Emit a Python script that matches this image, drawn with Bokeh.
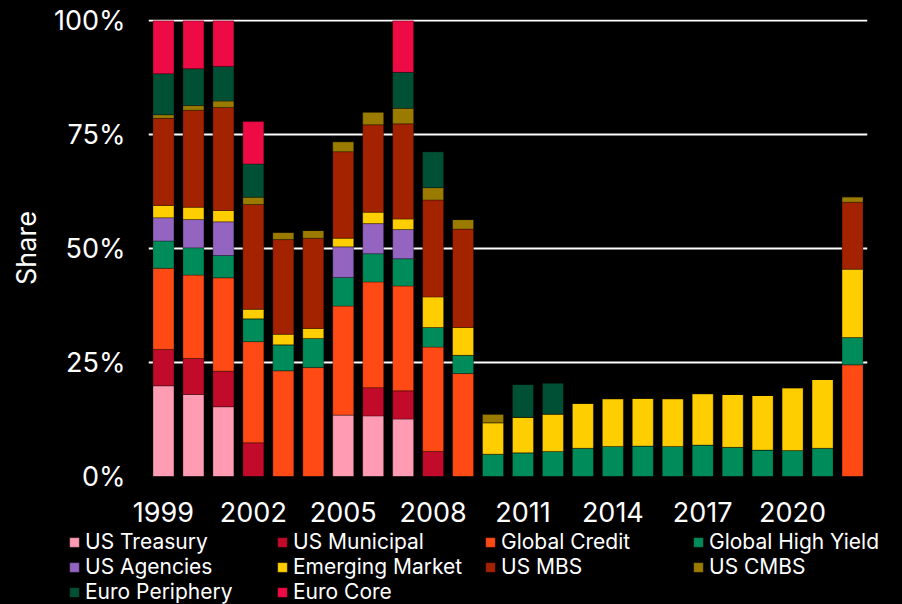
from bokeh.plotting import figure
from bokeh.models import Legend, LegendItem, FixedTicker, Range1d, ColumnDataSource, PrintfTickFormatter
from bokeh.embed import file_html
from bokeh.resources import INLINE

years = list(range(1999, 2023))
x_ticks = [1999, 2002, 2005, 2008, 2011, 2014, 2017, 2020]
y_ticks = [0, 25, 50, 75, 100]

series_names = ["US Treasury", "US Municipal", "Global Credit", "Global High Yield",
                "US Agencies", "Emerging Market", "US MBS", "US CMBS",
                "Euro Periphery", "Euro Core"]

us_treasury = [19.9, 18.0, 15.3, 0, 0, 0, 13.5, 13.3, 12.6, 0, 0, 0,
               0, 0, 0, 0, 0, 0, 0, 0, 0, 0, 0, 0]
us_municipal = [8.0, 7.9, 7.8, 7.4, 0, 0, 0, 6.2, 6.2, 5.5, 0, 0,
                0, 0, 0, 0, 0, 0, 0, 0, 0, 0, 0, 0]
global_credit = [17.8, 18.3, 20.5, 22.2, 23.2, 23.9, 23.9, 23.2, 23.0, 22.9, 22.6, 0,
                 0, 0, 0, 0, 0, 0, 0, 0, 0, 0, 0, 24.5]
global_high_yield = [6.0, 6.0, 4.9, 5.0, 5.7, 6.4, 6.3, 6.2, 6.0, 4.3, 4.0, 4.9,
                     5.2, 5.5, 6.2, 6.6, 6.7, 6.6, 6.9, 6.4, 5.8, 5.7, 6.2, 6.0]
us_agencies = [5.1, 6.2, 7.4, 0, 0, 0, 6.7, 6.6, 6.4, 0, 0, 0,
               0, 0, 0, 0, 0, 0, 0, 0, 0, 0, 0, 0]
emerging_market = [2.7, 2.7, 2.5, 2.1, 2.3, 2.2, 1.9, 2.5, 2.3, 6.7, 6.1, 6.9,
                   7.8, 8.2, 9.9, 10.5, 10.5, 10.5, 11.3, 11.6, 12.0, 13.8, 15.1, 15.0]
us_mbs = [19.1, 21.3, 22.6, 23.0, 20.8, 19.8, 19.0, 19.2, 20.9, 21.3, 21.6, 0,
          0, 0, 0, 0, 0, 0, 0, 0, 0, 0, 0, 14.7]
us_cmbs = [0.8, 1.0, 1.4, 1.6, 1.6, 1.7, 2.2, 2.8, 3.4, 2.7, 2.1, 1.9,
           0, 0, 0, 0, 0, 0, 0, 0, 0, 0, 0, 1.2]
euro_periphery = [9.0, 8.1, 7.6, 7.3, 0, 0, 0, 0, 7.9, 7.9, 0, 0,
                  7.2, 6.8, 0, 0, 0, 0, 0, 0, 0, 0, 0, 0]
euro_core = [11.6, 10.5, 10.0, 9.3, 0, 0, 0, 0, 11.3, 0, 0, 0,
             0, 0, 0, 0, 0, 0, 0, 0, 0, 0, 0, 0]

colors = ["#FF9BB3", "#C20A2A", "#FF4A15", "#008C5A", "#9364C0",
          "#FFCE00", "#A32200", "#9A7B00", "#005035", "#EE0A45"]

keys = ["s%d" % i for i in range(len(series_names))]
data = dict(year=years)
for k, vals in zip(keys, [us_treasury, us_municipal, global_credit, global_high_yield,
                          us_agencies, emerging_market, us_mbs, us_cmbs,
                          euro_periphery, euro_core]):
    data[k] = vals
source = ColumnDataSource(data)

FONT = "Inter"

p = figure(width=902, height=530, output_backend="svg", toolbar_location=None,
           x_range=Range1d(1998.5, 2022.5), y_range=Range1d(0, 100.3),
           min_border_left=148, min_border_right=35, min_border_top=19,
           min_border_bottom=54)
p.background_fill_color = "black"
p.border_fill_color = "black"
p.outline_line_color = None

renderers = p.vbar_stack(keys, x="year", width=0.7, source=source,
                         fill_color=colors, line_color="black", line_alpha=0.3,
                         line_width=1)

p.xgrid.visible = False
p.ygrid.ticker = FixedTicker(ticks=[25, 50, 75, 100])
p.ygrid.grid_line_color = "white"
p.ygrid.grid_line_width = 2
p.ygrid.level = "underlay"

p.xaxis.ticker = FixedTicker(ticks=x_ticks)
p.yaxis.ticker = FixedTicker(ticks=y_ticks)
p.yaxis.formatter = PrintfTickFormatter(format="%d%%")
for ax in (p.xaxis, p.yaxis):
    ax.axis_line_color = None
    ax.major_tick_line_color = None
    ax.minor_tick_line_color = None
    ax.major_tick_out = 0
    ax.major_tick_in = 0
    ax.major_label_text_color = "white"
    ax.major_label_text_font = FONT
    ax.major_label_text_font_size = "27px"
p.yaxis.major_label_standoff = 23
p.xaxis.major_label_standoff = 25
p.yaxis.axis_label = "Share"
p.yaxis.axis_label_text_color = "white"
p.yaxis.axis_label_text_font = FONT
p.yaxis.axis_label_text_font_size = "27px"
p.yaxis.axis_label_text_font_style = "normal"
p.yaxis.axis_label_standoff = 8

# legend strip below the chart (separate root so it is not frame-aligned)
lg = figure(width=902, height=74, output_backend="svg", toolbar_location=None,
            x_range=Range1d(0, 1), y_range=Range1d(0, 1),
            x_axis_location=None, y_axis_location=None,
            min_border=0)
lg.background_fill_color = "black"
lg.border_fill_color = "black"
lg.outline_line_color = None
lg.xgrid.visible = False
lg.ygrid.visible = False
swatches = [lg.vbar(x=[5], top=[5], width=0.5, fill_color=c, line_color="black",
                    line_alpha=0.3) for c in colors]

items = [LegendItem(label=n, renderers=[r]) for n, r in zip(series_names, swatches)]
legend = Legend(items=items, orientation="horizontal", ncols=4,
                location=(68, 0), padding=0, margin=0, spacing=0,
                border_line_alpha=0, background_fill_alpha=0,
                glyph_width=12, glyph_height=12, label_standoff=5,
                label_width=191, label_height=22,
                label_text_color="white", label_text_font=FONT,
                label_text_font_size="21px", label_text_line_height=1.0)
lg.add_layout(legend, "center")

html = file_html([p, lg], INLINE)
html = html.replace("<body>", '<body style="background-color:#000000;">')
open("out.html", "w").write(html)
